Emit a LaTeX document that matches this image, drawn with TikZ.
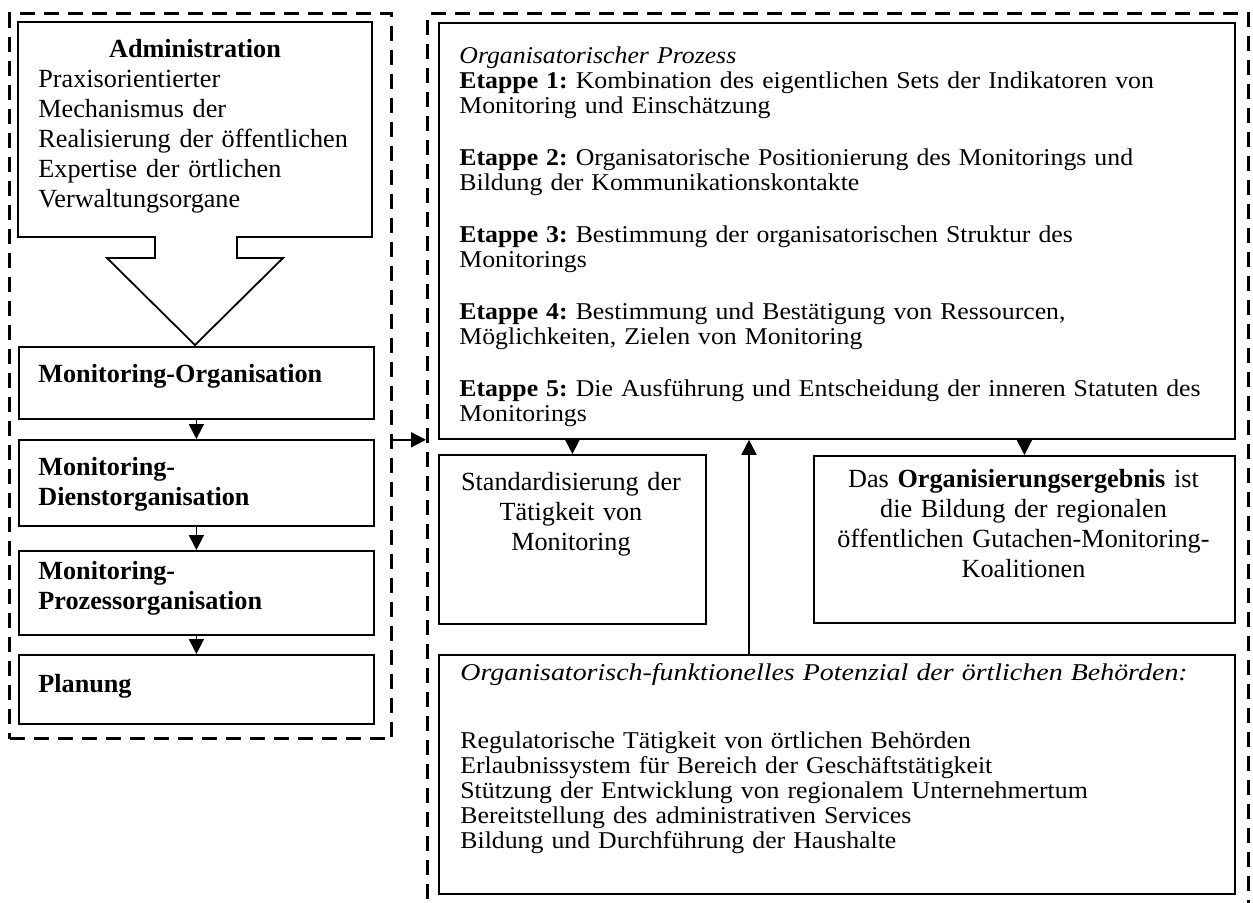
\documentclass[tikz,border=0pt]{standalone}
\usepackage{fontspec}
\setmainfont{Liberation Serif}
\newfontfamily\widefont[FakeStretch=1.07]{Liberation Serif}
\newfontfamily\widerfont[FakeStretch=1.16]{Liberation Serif}
\usetikzlibrary{arrows.meta}
\frenchspacing
\begin{document}
\begin{tikzpicture}[x=0.5pt,y=-0.5pt,
  box/.style={draw, line width=0.9pt, inner sep=0pt, anchor=north west},
  group/.style={draw, line width=1.6pt, dash pattern=on 7.5pt off 4.5pt, inner sep=0pt, anchor=north west},
  conn/.style={line width=0.9pt, -{Triangle[width=7.5pt,length=7.5pt]}},
  bigtxt/.style={font=\fontsize{13.1}{15}\selectfont, inner sep=0pt},
  smalltxt/.style={font=\widefont\fontsize{12.05}{12.5}\selectfont, inner sep=0pt},
  lefttxt/.style={anchor=base west, align=left, text width=#1},
  midtxt/.style={anchor=base, align=center, text width=#1}]
\useasboundingbox (0,0) rectangle (1253,902);

% dashed groups
\node[group, minimum width=191pt, minimum height=362.5pt] (lg) at (8,12) {};
\node[group, minimum width=410.5pt, minimum height=460pt] (rg) at (426,12) {};

% left column: administration box with its hollow arrow
\draw[line width=0.9pt] (18,22) -- (372,22) -- (372,237) -- (237,237) -- (237,258)
  -- (283,258) -- (195,345) -- (107,258) -- (155,258) -- (155,237) -- (18,237) -- cycle;
\node[bigtxt, anchor=base] (adt) at (195,57) {\textbf{Administration}};
\node[bigtxt, lefttxt=170pt] (adb) at (38,87) {Praxisorientierter\\Mechanismus der\\Realisierung der öffentlichen\\Expertise der örtlichen\\Verwaltungsorgane};

\node[box, minimum width=177.5pt, minimum height=36pt] (mo) at (18,346) {};
\node[box, minimum width=177.5pt, minimum height=43pt] (md) at (18,439) {};
\node[box, minimum width=177.5pt, minimum height=42pt] (mp) at (18,550) {};
\node[box, minimum width=177.5pt, minimum height=34.5pt] (pl) at (18,654) {};

\node[bigtxt, lefttxt=170pt] (mot) at (38,382) {\textbf{Monitoring-Organisation}};
\node[bigtxt, lefttxt=170pt] (mdt) at (38,475) {\textbf{Monitoring-}\\\textbf{Dienstorganisation}};
\node[bigtxt, lefttxt=170pt] (mpt) at (38,579) {\textbf{Monitoring-}\\\textbf{Prozessorganisation}};
\node[bigtxt, lefttxt=170pt] (plt) at (38,692) {\textbf{Planung}};

\draw[conn] (mo.south) -- (md.north);
\draw[conn] (md.south) -- (mp.north);
\draw[conn] (mp.south) -- (pl.north);

% right column
\node[box, minimum width=398pt, minimum height=208pt] (tb) at (438,22) {};
\node[smalltxt, lefttxt=390pt] (tbt) at (459,63) {\textit{Organisatorischer Prozess}\\
\textbf{Etappe 1:} Kombination des eigentlichen Sets der Indikatoren von\\
Monitoring und Einschätzung\\[13.5pt]
\textbf{Etappe 2:} Organisatorische Positionierung des Monitorings und\\
Bildung der Kommunikationskontakte\\[13.5pt]
\textbf{Etappe 3:} Bestimmung der organisatorischen Struktur des\\
Monitorings\\[13.5pt]
\textbf{Etappe 4:} Bestimmung und Bestätigung von Ressourcen,\\
Möglichkeiten, Zielen von Monitoring\\[13.5pt]
\textbf{Etappe 5:} Die Ausführung und Entscheidung der inneren Statuten des\\
Monitorings};

\node[box, minimum width=133.5pt, minimum height=84.5pt] (st) at (438,454) {};
\node[bigtxt, midtxt=130pt] (stt) at (571,490) {Standardisierung der\\Tätigkeit von\\Monitoring};

\node[box, minimum width=210.5pt, minimum height=83.5pt] (rs) at (813,455) {};
\node[bigtxt, midtxt=208pt] (rst) at (1023.5,487) {Das \textbf{Organisierungsergebnis} ist\\die Bildung der regionalen\\öffentlichen Gutachen-Monitoring-\\Koalitionen};

\node[box, minimum width=398pt, minimum height=119.5pt] (bb) at (438,654) {};
\node[smalltxt, lefttxt=390pt] (bbt) at (460,680) {{\widerfont\fontsize{12.05}{12.5}\selectfont\textit{Organisatorisch-funktionelles Potenzial der örtlichen Behörden:}}\\[21.5pt]
Regulatorische Tätigkeit von örtlichen Behörden\\
Erlaubnissystem für Bereich der Geschäftstätigkeit\\
Stützung der Entwicklung von regionalem Unternehmertum\\
Bereitstellung des administrativen Services\\
Bildung und Durchführung der Haushalte};

% connectors
\coordinate (up) at (749,0);
\draw[conn] (lg.east |- tb.south) -- (rg.west |- tb.south);
\draw[conn] (st.north |- tb.south) -- (st.north);
\draw[conn] (rs.north |- tb.south) -- (rs.north);
\draw[conn] (bb.north -| up) -- (tb.south -| up);
\end{tikzpicture}
\end{document}
